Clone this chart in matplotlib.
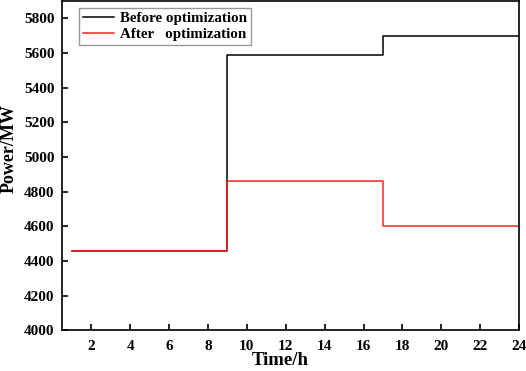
import numpy as np
import matplotlib.pyplot as plt

plt.rcParams['font.family'] = 'Liberation Serif'
plt.rcParams['font.weight'] = 'bold'

# hourly load, MW
hours = list(range(1, 25))
before_opt = [4455] * 8 + [5590] * 8 + [5700] * 8
after_opt = [4455] * 8 + [4860] * 8 + [4600] * 8

fig = plt.figure(figsize=(5.26, 3.71), dpi=100)
ax = fig.add_axes([0.118, 0.110, 0.869, 0.887])

ax.step(hours, before_opt, where='post', color='black', lw=1.1, label='Before optimization')
ax.step(hours, after_opt, where='post', color='#ff2020', lw=1.1, label='After   optimization')

ax.set_xlim(0.5, 24)
ax.set_ylim(4000, 5900)
ax.set_xticks(range(2, 25, 2))
ax.set_yticks(range(4000, 5801, 200))
ax.tick_params(axis='x', direction='in', length=4, width=1.2, labelsize=11, pad=7)
ax.tick_params(axis='y', direction='in', length=4, width=1.2, labelsize=11, pad=5.5)
for lbl in ax.get_xticklabels() + ax.get_yticklabels():
    lbl.set_fontweight('bold')
for s in ax.spines.values():
    s.set_linewidth(1.2)

ax.set_xlabel('Time/h', fontsize=13.5, fontweight='bold', va='center')
ax.xaxis.set_label_coords(0.477, -0.092)
ax.set_ylabel('Power/MW', fontsize=13, fontweight='bold', va='center')
ax.yaxis.set_label_coords(-0.115, 0.553)

leg = ax.legend(loc='upper left', bbox_to_anchor=(0.037, 0.979), borderaxespad=0,
                fontsize=10.8, frameon=True, fancybox=False, handlelength=2.1,
                handletextpad=0.4, borderpad=0.25, labelspacing=0.15)
leg.get_frame().set_edgecolor('gray')
leg.get_frame().set_linewidth(1.0)

plt.savefig('out.png', dpi=100)
